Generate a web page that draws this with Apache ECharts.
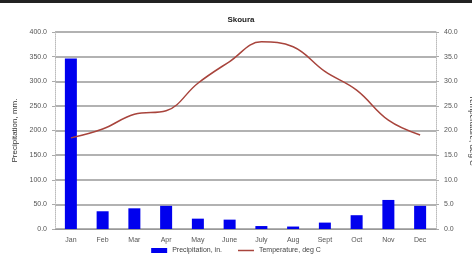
<!DOCTYPE html>
<html>
<head>
<meta charset="utf-8">
<script src="https://cdn.jsdelivr.net/npm/echarts@6/dist/echarts.min.js"></script>
<style>
  html, body { margin: 0; padding: 0; background: #fff; }
  #chart { width: 472px; height: 260px; }
</style>
</head>
<body>
<div id="chart"></div>
<script>
// data
const months = ['Jan', 'Feb', 'Mar', 'Apr', 'May', 'June', 'July', 'Aug', 'Sept', 'Oct', 'Nov', 'Dec']
const precipitation = [346, 36, 42, 47, 21, 19, 6, 5, 13, 28, 59, 47]
const temperature = [18.5, 20.3, 23.3, 24.0, 29.6, 34.0, 38.0, 37.0, 32.0, 28.2, 22.1, 19.1]

const chart = echarts.init(document.getElementById('chart'))
const font = 'Liberation Sans, Arial, sans-serif'

chart.setOption({
  animation: false,
  textStyle: { fontFamily: font },
  title: {
    text: 'Skoura',
    left: 236,
    top: 11,
    textAlign: 'center',
    textStyle: { fontSize: 8, fontWeight: 'bold', color: '#222', fontFamily: font }
  },
  graphic: [
    { type: 'rect', shape: { x: 0, y: 0, width: 472, height: 3 }, style: { fill: '#222' } }
  ],
  legend: {
    bottom: 1,
    left: 'center',
    itemGap: 16,
    itemWidth: 16,
    itemHeight: 5,
    textStyle: { fontSize: 7, color: '#444', fontFamily: font },
    data: [
      { name: 'Precipitation, in.', icon: 'rect' },
      { name: 'Temperature, deg C', icon: 'path://M0,0 L16,0 L16,1.5 L0,1.5 Z' }
    ]
  },
  grid: { left: 55, right: 36, top: 32, bottom: 31, outerBoundsMode: 'none' },
  xAxis: {
    type: 'category',
    data: months,
    axisTick: { show: false },
    axisLine: { lineStyle: { color: '#999' } },
    axisLabel: { fontSize: 7, color: '#555', margin: 8 }
  },
  yAxis: [{
    type: 'value',
    min: 0,
    max: 400,
    interval: 50,
    name: 'Precipitation, mm.',
    nameLocation: 'middle',
    nameGap: 33,
    nameTextStyle: { fontSize: 8, color: '#333' },
    axisLine: { show: true, lineStyle: { color: '#bbb', type: 'dotted' } },
    axisTick: { show: true, length: 3, lineStyle: { color: '#aaa' } },
    axisLabel: { fontSize: 7, color: '#555', formatter: v => v.toFixed(1) },
    splitLine: { lineStyle: { color: '#999', width: 1.5 } }
  }, {
    type: 'value',
    min: 0,
    max: 40,
    interval: 5,
    name: 'Temperature, deg C',
    nameLocation: 'middle',
    nameGap: 30,
    nameRotate: -90,
    nameTextStyle: { fontSize: 8, color: '#333' },
    axisLine: { show: true, lineStyle: { color: '#bbb', type: 'dotted' } },
    axisTick: { show: true, length: 3, lineStyle: { color: '#aaa' } },
    axisLabel: { fontSize: 7, color: '#555', formatter: v => v.toFixed(1) },
    splitLine: { show: false }
  }],
  series: [{
    name: 'Precipitation, in.',
    type: 'bar',
    barWidth: 12,
    itemStyle: { color: '#0000ee' },
    data: precipitation
  }, {
    name: 'Temperature, deg C',
    type: 'line',
    yAxisIndex: 1,
    smooth: 0.4,
    symbol: 'none',
    lineStyle: { color: '#a8443c', width: 1.5 },
    itemStyle: { color: '#a8443c' },
    data: temperature
  }]
})
</script>
</body>
</html>
